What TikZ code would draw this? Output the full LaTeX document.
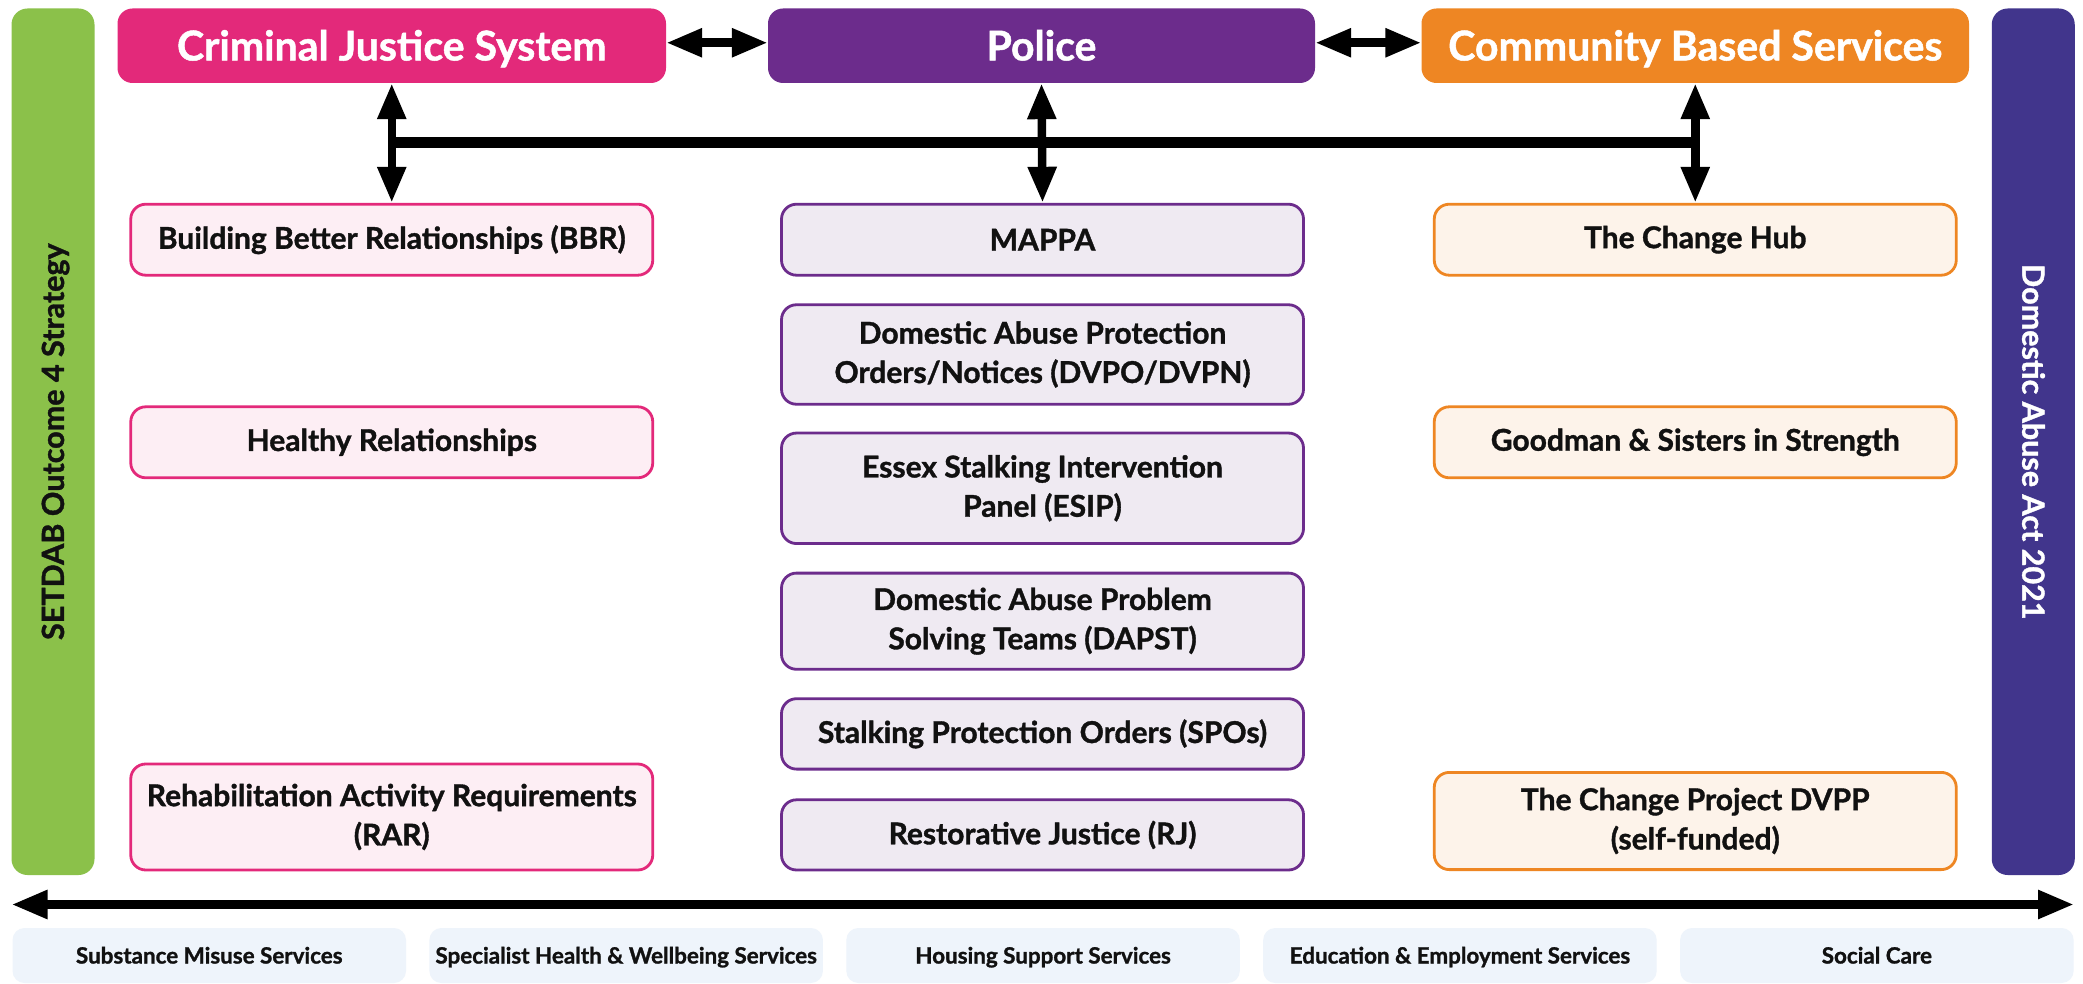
\documentclass[tikz,border=0pt]{standalone}
\usepackage{fontspec}
\setmainfont{Lato}[BoldFeatures={FakeBold=1.2}]
\usetikzlibrary{arrows.meta}
\definecolor{cjsC}{HTML}{E3297A}
\definecolor{polC}{HTML}{6C2C8C}
\definecolor{cbsC}{HTML}{EE8623}
\definecolor{grnC}{HTML}{8BC14A}
\definecolor{dabC}{HTML}{41358C}
\definecolor{cjsL}{HTML}{FDEEF4}
\definecolor{polL}{HTML}{EFEAF2}
\definecolor{cbsL}{HTML}{FDF3EA}
\definecolor{botL}{HTML}{EEF4FB}
\definecolor{txtC}{HTML}{111111}
\begin{document}
\begin{tikzpicture}[x=1pt,y=-1pt,
  hdr/.style={rounded corners=15pt, minimum height=74.5pt, minimum width=547pt, inner sep=0pt, text height=29.4pt, text depth=0pt, text=white, font=\fontsize{41}{43}\selectfont\bfseries},
  colbox/.style={rounded corners=15pt, line width=2.8pt, draw=#1, inner sep=0pt, minimum width=522pt, align=center, text=txtC, font=\fontsize{30}{39.3}\selectfont\bfseries},
  botbox/.style={rounded corners=12pt, fill=botL, minimum width=393.5pt, minimum height=55pt, inner sep=0pt, text height=16pt, text depth=0pt, text=txtC, font=\fontsize{22.4}{24}\selectfont\bfseries},
  sidebar/.style={rounded corners=16pt, minimum width=866.5pt, minimum height=83pt, inner sep=0pt, text height=21.9pt, text depth=0pt, font=\fontsize{30.5}{32}\selectfont\bfseries},
  arr/.style={line width=8.5pt, {Triangle[length=36pt,width=27pt]}-{Triangle[length=36pt,width=27pt]}}
]
\useasboundingbox (0,0) rectangle (2083,984);
\fill[white] (0,0) rectangle (2083,984);

% side bars
\node[sidebar, fill=grnC, text=txtC, rotate=90] (setdab) at (53,441.75) {SETDAB Outcome 4 Strategy};
\node[sidebar, fill=dabC, text=white, rotate=-90] (daact) at (2033.25,441.75) {Domestic Abuse Act 2021};

% headers
\node[hdr, fill=cjsC, minimum width=548.5pt] (cjs) at (391.75,45.75) {Criminal Justice System};
\node[hdr, fill=polC] (pol) at (1041.5,45.75) {Police};
\node[hdr, fill=cbsC, minimum width=547.5pt] (cbs) at (1695.25,45.75) {Community Based Services};

% left column
\node[colbox=cjsC, fill=cjsL, minimum height=71pt] (bbr) at (391.75,239.7) {Building Better Relationships (BBR)};
\node[colbox=cjsC, fill=cjsL, minimum height=71pt] (hr) at (391.75,442.3) {Healthy Relationships};
\node[colbox=cjsC, fill=cjsL, minimum height=106pt] (rar) at (391.75,817) {Rehabilitation Activity Requirements\\(RAR)};

% middle column
\node[colbox=polC, fill=polL, minimum height=71pt] (mappa) at (1042.5,239.7) {MAPPA};
\node[colbox=polC, fill=polL, minimum height=99.5pt] (dapo) at (1042.5,354.5) {Domestic Abuse Protection\\Orders/Notices (DVPO/DVPN)};
\node[colbox=polC, fill=polL, minimum height=110.5pt] (esip) at (1042.5,488.3) {Essex Stalking Intervention\\Panel (ESIP)};
\node[colbox=polC, fill=polL, minimum height=96.2pt] (dapst) at (1042.5,621.2) {Domestic Abuse Problem\\Solving Teams (DAPST)};
\node[colbox=polC, fill=polL, minimum height=70.4pt] (spo) at (1042.5,733.9) {Stalking Protection Orders (SPOs)};
\node[colbox=polC, fill=polL, minimum height=70.2pt] (rj) at (1042.5,834.9) {Restorative Justice (RJ)};

% right column
\node[colbox=cbsC, fill=cbsL, minimum height=71pt] (hub) at (1695.25,239.7) {The Change Hub};
\node[colbox=cbsC, fill=cbsL, minimum height=71pt] (good) at (1695.25,442.3) {Goodman \& Sisters in Strength};
\node[colbox=cbsC, fill=cbsL, minimum height=97.2pt] (proj) at (1695.25,821) {The Change Project DVPP\\(self-funded)};

% bottom boxes
\node[botbox] (b1) at (209.25,955.5) {Substance Misuse Services};
\node[botbox] (b2) at (626.15,955.5) {Specialist Health \& Wellbeing Services};
\node[botbox] (b3) at (1043.05,955.5) {Housing Support Services};
\node[botbox] (b4) at (1459.95,955.5) {Education \& Employment Services};
\node[botbox] (b5) at (1876.85,955.5) {Social Care};

% connectors
\draw[arr] ([yshift=3pt]cjs.east) -- ([yshift=3pt]pol.west);
\draw[arr] ([yshift=3pt]pol.east) -- ([yshift=3pt]cbs.west);
\coordinate (hb) at (0,142.7);
\draw[line width=10.5pt] (cjs.south |- hb) -- (cbs.south |- hb);
\draw[arr] (cjs.south) -- (bbr.north);
\draw[arr] (pol.south) -- (mappa.north);
\draw[arr] (cbs.south) -- (hub.north);
\coordinate (bl) at (11.5,904.5);
\coordinate (br) at (2074,904.5);
\draw[arr] (bl) -- (br);
\end{tikzpicture}
\end{document}
